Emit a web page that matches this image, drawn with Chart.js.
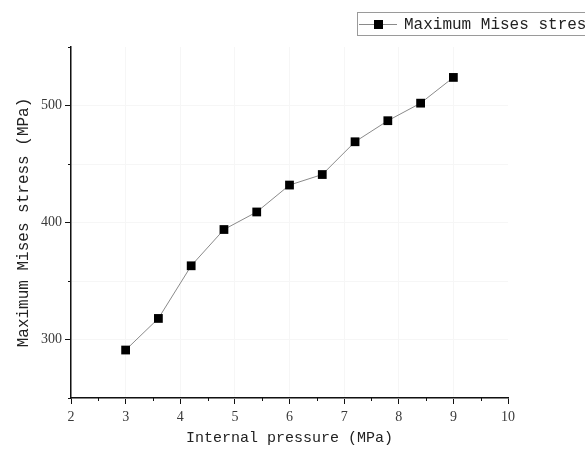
<!DOCTYPE html>
<html>
<head>
<meta charset="utf-8">
<script src="https://cdn.jsdelivr.net/npm/chart.js@4/dist/chart.umd.min.js"></script>
<style>
html,body{margin:0;padding:0;background:#fff;}
#wrap{width:585px;height:453px;position:relative;}
</style>
</head>
<body>
<div id="wrap"><canvas id="c" width="585" height="453"></canvas></div>
<script>
// ---- data ----
const pressure = [3, 3.6, 4.2, 4.8, 5.4, 6.0, 6.6, 7.2, 7.8, 8.4, 9.0];
const misesStress = [291, 318, 363, 394, 409, 432, 441, 469, 487, 502, 524];
const seriesName = 'Maximum Mises stress';
const xTitle = 'Internal pressure (MPa)';
const yTitle = 'Maximum Mises stress (MPa)';
const xRange = [2, 10];
const yRange = [250, 550];

const monoFont = '"Liberation Mono", "DejaVu Sans Mono", monospace';
const tickFont = '"Liberation Serif", "DejaVu Serif", serif';

const minorTicks = {
  id: 'minorTicks',
  afterDraw(chart) {
    const ctx = chart.ctx;
    const xs = chart.scales.x, ys = chart.scales.y;
    ctx.save();
    ctx.strokeStyle = '#111';
    ctx.lineWidth = 1;
    xs.ticks.forEach(t => {
      if (Math.abs(t.value - Math.round(t.value)) > 1e-6) {
        const px = Math.round(xs.getPixelForValue(t.value)) + 0.5;
        ctx.beginPath(); ctx.moveTo(px, xs.top); ctx.lineTo(px, xs.top + 3); ctx.stroke();
      }
    });
    ys.ticks.forEach(t => {
      if (t.value % 100 !== 0) {
        const py = Math.round(ys.getPixelForValue(t.value)) + 0.5;
        ctx.beginPath(); ctx.moveTo(ys.right, py); ctx.lineTo(ys.right - 3, py); ctx.stroke();
      }
    });
    ctx.restore();
  }
};

const boxLegend = {
  id: 'boxLegend',
  afterDraw(chart) {
    const ctx = chart.ctx;
    const ds = chart.data.datasets[0];
    ctx.save();
    ctx.strokeStyle = '#9a9a9a';
    ctx.lineWidth = 1;
    ctx.strokeRect(357.5, 12.5, 260, 23);
    ctx.strokeStyle = ds.borderColor;
    ctx.beginPath(); ctx.moveTo(359, 24.5); ctx.lineTo(397, 24.5); ctx.stroke();
    ctx.fillStyle = ds.pointBackgroundColor;
    ctx.fillRect(374, 20, 9, 9);
    ctx.fillStyle = '#222';
    ctx.font = '16px ' + monoFont;
    ctx.textBaseline = 'middle';
    ctx.fillText(ds.label, 404, 25);
    ctx.restore();
  }
};

new Chart(document.getElementById('c'), {
  type: 'line',
  data: {
    datasets: [{
      label: seriesName,
      data: pressure.map((p, i) => ({x: p, y: misesStress[i]})),
      borderColor: '#8a8a8a',
      borderWidth: 1,
      pointStyle: 'rect',
      pointRadius: 6.2,
      pointBackgroundColor: '#000',
      pointBorderColor: '#000',
      pointBorderWidth: 0,
      tension: 0,
      fill: false
    }]
  },
  options: {
    responsive: false,
    animation: false,
    layout: {padding: {left: 0, right: 77, top: 47, bottom: 0}},
    plugins: {legend: {display: false}, tooltip: {enabled: false}},
    scales: {
      x: {
        type: 'linear',
        min: xRange[0], max: xRange[1],
        afterFit(s) { s.height = 55; },
        border: {display: true, color: '#111', width: 1.5},
        grid: {
          color: c => (Math.abs(c.tick.value - Math.round(c.tick.value)) < 1e-6 && c.tick.value < xRange[1] ? '#f6f6f6' : 'rgba(0,0,0,0)'),
          tickColor: c => (Math.abs(c.tick.value - Math.round(c.tick.value)) < 1e-6 ? '#111' : 'rgba(0,0,0,0)'),
          tickLength: 6,
          drawTicks: true
        },
        ticks: {
          stepSize: 0.5,
          autoSkip: false,
          maxRotation: 0,
          padding: 5,
          color: '#3a3a3a',
          font: {family: tickFont, size: 14},
          callback: v => (Math.abs(v - Math.round(v)) < 1e-6 ? String(Math.round(v)) : '')
        },
        title: {
          display: true, text: xTitle, color: '#222',
          font: {family: monoFont, size: 15},
          padding: {top: 0, bottom: 6}
        }
      },
      y: {
        type: 'linear',
        min: yRange[0], max: yRange[1],
        afterFit(s) { s.width = 71; },
        border: {display: true, color: '#111', width: 1.5},
        grid: {
          color: c => (c.tick.value < yRange[1] ? '#f6f6f6' : 'rgba(0,0,0,0)'),
          tickColor: c => (c.tick.value % 100 === 0 ? '#111' : 'rgba(0,0,0,0)'),
          tickLength: 6,
          drawTicks: true
        },
        ticks: {
          stepSize: 50,
          autoSkip: false,
          padding: 3,
          color: '#3a3a3a',
          font: {family: tickFont, size: 14},
          callback: v => (v % 100 === 0 ? String(v) : '')
        },
        title: {
          display: true, text: yTitle, color: '#222',
          font: {family: monoFont, size: 16},
          padding: {top: 14, bottom: 0}
        }
      }
    }
  },
  plugins: [minorTicks, boxLegend]
});
</script>
</body>
</html>
